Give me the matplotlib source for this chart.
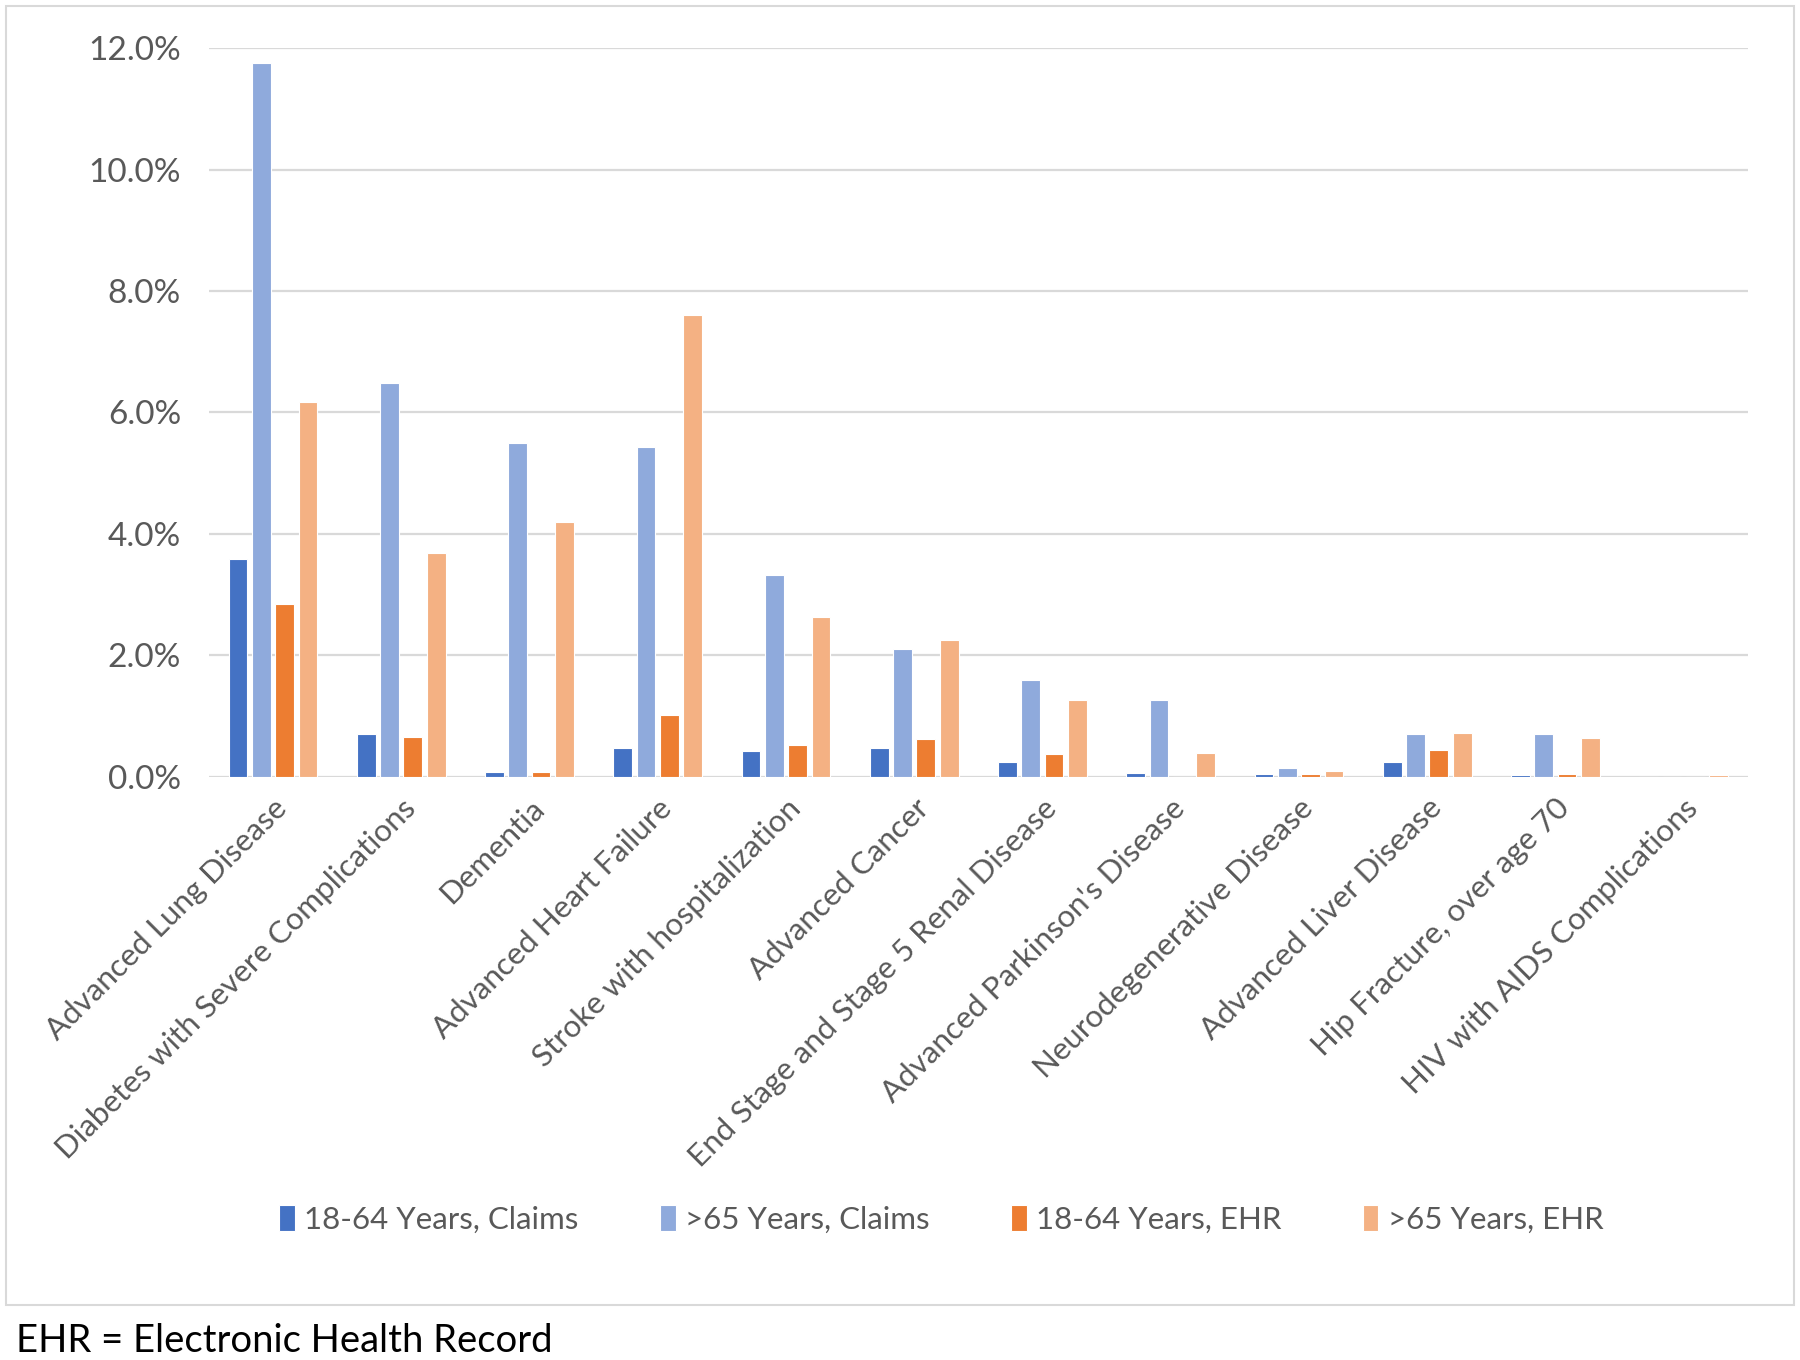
import numpy as np
import matplotlib
matplotlib.use("Agg")
import matplotlib.pyplot as plt
from matplotlib.patches import Rectangle
from matplotlib.ticker import FuncFormatter

plt.rcParams['font.family'] = ['Lato', 'DejaVu Sans']

categories = [
    "Advanced Lung Disease",
    "Diabetes with Severe Complications",
    "Dementia",
    "Advanced Heart Failure",
    "Stroke with hospitalization",
    "Advanced Cancer",
    "End Stage and Stage 5 Renal Disease",
    "Advanced Parkinson's Disease",
    "Neurodegenerative Disease",
    "Advanced Liver Disease",
    "Hip Fracture, over age 70",
    "HIV with AIDS Complications",
]

# 値は割合 (%)
claims_18_64 = [3.59, 0.70, 0.09, 0.47, 0.42, 0.47, 0.25, 0.07, 0.05, 0.24, 0.03, 0.0]
claims_65 = [11.76, 6.48, 5.50, 5.43, 3.33, 2.10, 1.59, 1.27, 0.15, 0.71, 0.70, 0.0]
ehr_18_64 = [2.85, 0.66, 0.09, 1.02, 0.53, 0.62, 0.38, 0.0, 0.05, 0.44, 0.05, 0.0]
ehr_65 = [6.18, 3.69, 4.20, 7.60, 2.63, 2.25, 1.27, 0.40, 0.10, 0.73, 0.64, 0.04]

series_names = ["18-64 Years, Claims", ">65 Years, Claims",
                "18-64 Years, EHR", ">65 Years, EHR"]
colors = ["#4472C4", "#8FAADC", "#ED7D31", "#F4B183"]
series = [claims_18_64, claims_65, ehr_18_64, ehr_65]

fig = plt.figure(figsize=(18, 13.6), dpi=100)
ax = fig.add_axes([0.116, 0.4287, 0.855, 0.536])

# 外枠
fig.patches.append(Rectangle((0.0035, 0.0404), 0.993, 0.955, transform=fig.transFigure,
                             fill=False, edgecolor="#D9D9D9", linewidth=1.5))

x = np.arange(len(categories))
pitch = 0.182
width = 0.146
for i, (vals, name, c) in enumerate(zip(series, series_names, colors)):
    ax.bar(x + (i - 1.5) * pitch, np.array(vals) / 100, width, color=c, label=name,
           edgecolor="white", linewidth=0.8, zorder=3)

ax.set_xlim(-0.5, len(categories) - 0.5)
ax.set_ylim(0, 0.12)
ax.set_yticks(np.arange(0, 0.1201, 0.02))
ax.yaxis.set_major_formatter(FuncFormatter(lambda v, p: f"{v*100:.1f}%"))
ax.grid(axis="y", color="#D9D9D9", linewidth=1.6, zorder=0)
for s in ax.spines.values():
    s.set_visible(False)
ax.tick_params(axis="both", length=0, labelcolor="#595959")
ax.tick_params(axis="y", pad=20, labelsize=24)
ax.set_xticks(x)
ax.set_xticklabels(categories, rotation=45, ha="right", rotation_mode="anchor")
ax.tick_params(axis="x", pad=12, labelsize=22.5)

fig.legend(loc="center", bbox_to_anchor=(0.523, 0.1037), ncol=4, frameon=False,
           fontsize=22.5, labelcolor="#595959", handlelength=0.5, handleheight=0.9,
           handletextpad=0.3, columnspacing=2.6)

fig.text(0.009, 0.014, "EHR = Electronic Health Record", fontsize=27.5, color="black",
         va="center", ha="left")

fig.savefig("out.png", dpi=100)
